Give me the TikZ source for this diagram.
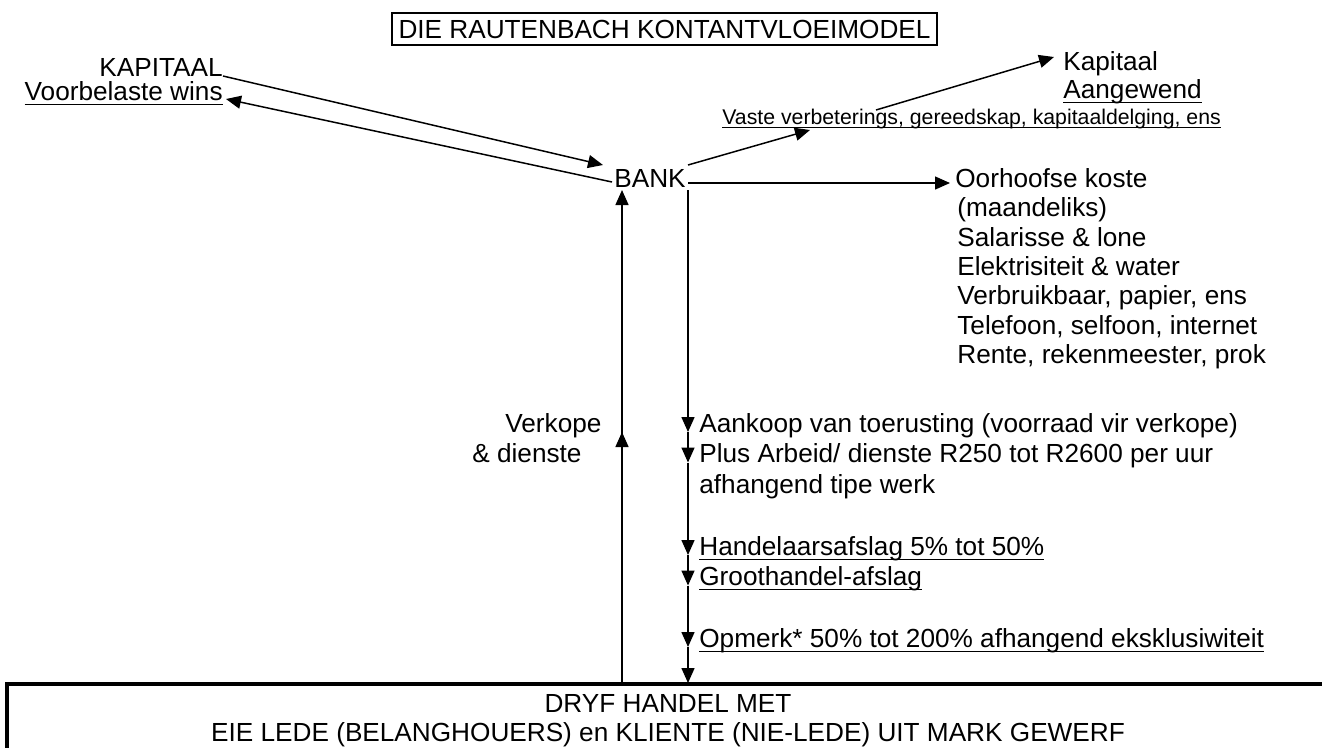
\documentclass[tikz,border=0pt]{standalone}
\usepackage{fontspec}
\setmainfont{Liberation Sans}
\usetikzlibrary{arrows.meta}
\newcommand\ulin[1]{\setbox0\hbox{#1}\rlap{\rule[-0.19em]{\wd0}{0.055em}}\box0}

\begin{document}
\begin{tikzpicture}[
  font=\fontsize{14.9}{17.3}\selectfont,
  txt/.style={inner sep=0pt,anchor=base west},
  txtr/.style={inner sep=0pt,anchor=base east},
  txtc/.style={inner sep=0pt,anchor=base},
  tiny/.style={font=\fontsize{12.1}{14}\selectfont},
  lnk/.style={draw=black,line width=0.85pt},
  arr/.style={lnk,-{Triangle[length=0.30cm,width=0.26cm]}},
  frame/.style={draw=black,line width=1.4pt},
  floor/.style={draw=black,line width=1.8pt},
]
\clip (0,0) rectangle (26.44,-14.94);

\node[frame,inner sep=0pt,minimum width=10.9cm,minimum height=0.64cm] (title) at (13.29,-0.58) {DIE RAUTENBACH KONTANTVLOEIMODEL};

\node[txtr] (kap) at (4.46,-1.52) {KAPITAAL};
\node[txtr] (vbw) at (4.46,-2.00) {\ulin{Voorbelaste wins}};
\node[txt] (bank) at (12.28,-3.74) {BANK};
\coordinate (bkin) at (12.06,-3.30);
\coordinate (bkout) at (12.24,-3.64);
\coordinate (vbwin) at (4.52,-1.98);
\draw[arr] (kap.base east) -- (bkin);
\draw[arr] (bkout) -- (vbwin);

\node[txt] (kapr) at (21.26,-1.40) {Kapitaal};
\node[txt] (aanw) at (21.26,-1.96) {\ulin{Aangewend}};
\node[txt,tiny] (vaste) at (14.44,-2.48) {\ulin{Vaste verbeterings, gereedskap, kapitaaldelging, ens}};
\coordinate (kpa) at (13.76,-3.30);
\coordinate (kpb) at (16.20,-2.60);
\coordinate (kpc) at (17.52,-2.20);
\coordinate (kpd) at (21.08,-1.14);
\draw[arr] (kpa) -- (kpb);
\draw[arr] (kpc) -- (kpd);

\node[txt] (oor) at (19.10,-3.74) {Oorhoofse koste};
\node[txt] (oor1) at (19.14,-4.33) {(maandeliks)};
\node[txt] (oor2) at (19.14,-4.92) {Salarisse \& lone};
\node[txt] (oor3) at (19.14,-5.50) {Elektrisiteit \& water};
\node[txt] (oor4) at (19.14,-6.09) {Verbruikbaar, papier, ens};
\node[txt] (oor5) at (19.14,-6.68) {Telefoon, selfoon, internet};
\node[txt] (oor6) at (19.14,-7.27) {Rente, rekenmeester, prok};
\coordinate (bkr) at (13.76,-3.66);
\coordinate (oorin) at (19.00,-3.66);
\draw[arr] (bkr) -- (oorin);

\node[txt] (aank) at (13.98,-8.64) {Aankoop van toerusting (voorraad vir verkope)};
\node[txt] (plus) at (13.98,-9.25) {Plus Arbeid/ dienste R250 tot R2600 per uur};
\node[txt] (afh) at (13.98,-9.87) {afhangend tipe werk};
\node[txt] (hand) at (13.98,-11.10) {\ulin{Handelaarsafslag 5\% tot 50\%}};
\node[txt] (groot) at (13.98,-11.71) {\ulin{Groothandel-afslag}};
\node[txt] (opm) at (13.98,-12.94) {\ulin{Opmerk* 50\% tot 200\% afhangend eksklusiwiteit}};
\coordinate (dn0) at (13.76,-3.80);
\coordinate (dn6) at (13.76,-13.66);
\draw[arr] (dn0) -- (dn0 |- aank.base);
\draw[arr] (dn0 |- aank.base) -- (dn0 |- plus.base);
\draw[arr] (dn0 |- plus.base) -- (dn0 |- hand.base);
\draw[arr] (dn0 |- hand.base) -- (dn0 |- groot.base);
\draw[arr] (dn0 |- groot.base) -- (dn0 |- opm.base);
\draw[arr] (dn0 |- opm.base) -- (dn6);

\node[txt] (verk) at (10.10,-8.64) {Verkope};
\node[txt] (dien) at (9.44,-9.25) {\& dienste};
\coordinate (up0) at (12.44,-13.68);
\coordinate (up1) at (12.44,-3.80);
\draw[arr] (up0) -- (up0 |- verk.base);
\draw[arr] (up0) -- (up1);

\draw[floor] (0.14,-15.2) -- (0.14,-13.68) -- (26.8,-13.68);
\node[txtc] (dryf) at (13.36,-14.24) {DRYF HANDEL MET};
\node[txtc] (eie) at (13.36,-14.82) {EIE LEDE (BELANGHOUERS) en KLIENTE (NIE-LEDE) UIT MARK GEWERF};
\end{tikzpicture}
\end{document}
